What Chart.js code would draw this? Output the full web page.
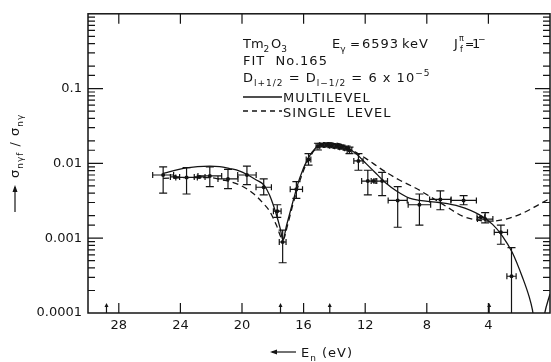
<!DOCTYPE html>
<html><head><meta charset="utf-8">
<script src="https://cdn.jsdelivr.net/npm/chart.js@4/dist/chart.umd.min.js"></script>
<style>html,body{margin:0;padding:0;background:#fff;overflow:hidden}canvas{display:block}</style>
</head><body>
<canvas id="c" width="554" height="362"></canvas>
<script>
// ---- tick labels ----
const xTickLabels = [28, 24, 20, 16, 12, 8, 4];
const yTickLabels = [0.0001, 0.001, 0.01, 0.1];

// ---- measured points (En in eV, ratio) ----
const pointE   = [25.12, 24.35, 23.60, 22.75, 22.09, 20.91, 19.68, 18.59, 17.71, 17.36, 16.47, 15.68, 15.07, 14.83, 14.51, 14.19, 13.86, 13.54, 13.21, 13.02, 12.44, 11.83, 11.46, 10.90, 9.89, 8.48, 7.12, 5.61, 4.49, 4.21, 3.19, 2.50];
const pointY   = [0.0070, 0.0066, 0.0065, 0.0066, 0.0068, 0.0062, 0.0070, 0.0048, 0.0023, 0.00089, 0.0045, 0.0113, 0.0169, 0.0176, 0.0176, 0.0172, 0.0170, 0.0165, 0.0160, 0.0149, 0.0108, 0.0058, 0.0058, 0.0058, 0.0032, 0.0028, 0.0033, 0.0032, 0.0019, 0.0018, 0.0012, 0.00031];
const pointYHi = [0.0090, null, 0.0088, null, 0.0090, 0.0083, 0.0092, 0.0062, 0.0028, 0.00128, 0.0057, 0.0135, 0.0186, 0.0186, 0.0186, 0.0182, 0.0180, 0.0175, 0.0170, 0.0165, 0.0135, 0.0081, null, 0.0076, 0.0049, 0.0039, 0.0043, 0.0037, null, 0.0022, 0.0015, 0.00075];
const pointYLo = [0.0040, null, 0.0039, null, 0.0049, 0.0046, 0.0052, 0.0038, 0.0019, 0.00047, 0.0034, 0.0095, 0.0151, 0.0166, 0.0166, 0.0162, 0.0160, 0.0155, 0.0150, 0.0135, 0.0081, 0.0038, null, 0.0037, 0.0014, 0.0015, 0.0024, 0.0028, null, 0.0016, 0.00083, 0.00008];
const pointEErr = [0.68, 0.30, 0.70, 0.35, 0.77, 0.65, 0.60, 0.50, 0.25, 0.22, 0.40, 0.15, 0.12, 0.12, 0.12, 0.12, 0.12, 0.12, 0.12, 0.15, 0.30, 0.40, 0.15, 0.35, 0.62, 0.73, 0.70, 0.83, 0.25, 0.50, 0.43, 0.30];

// ---- multilevel fit (solid) ----
const multiE = [25.12, 23.60, 22.09, 21.45, 20.80, 20.15, 19.68, 19.07, 18.59, 18.20, 17.77, 17.50, 17.35, 17.10, 16.69, 16.26, 15.72, 15.18, 14.85, 14.43, 13.88, 13.23, 12.59, 11.94, 11.29, 10.64, 9.99, 9.13, 8.48, 7.19, 5.89, 4.60, 3.73, 3.09, 2.44, 1.79, 1.35, 1.14, 0.95, 0.65, 0.34, 0];
const multiY = [0.00733, 0.00873, 0.00918, 0.00908, 0.00854, 0.00789, 0.00711, 0.0060, 0.00515, 0.00372, 0.00207, 0.00130, 0.00095, 0.00150, 0.0031, 0.0063, 0.01157, 0.01651, 0.01825, 0.01882, 0.01825, 0.01651, 0.01347, 0.00994, 0.00733, 0.00541, 0.0043, 0.00343, 0.0032, 0.0030, 0.00267, 0.00207, 0.00153, 0.00107, 0.00064, 0.000301, 0.000164, 0.00011, 0.00006, 0.00004, 0.0001, 0.00018];

// ---- single-level fit (dashed) ----
const singleE = [25.12, 23.60, 22.09, 21.23, 20.15, 19.29, 18.64, 18.20, 17.77, 17.34, 17.04, 16.71, 16.26, 15.74, 15.18, 14.64, 14.12, 13.60, 13.02, 11.94, 10.86, 9.78, 8.70, 7.62, 6.75, 5.68, 4.60, 3.95, 2.86, 1.79, 0.71, 0];
const singleY = [0.0063, 0.00644, 0.00644, 0.0060, 0.00515, 0.00399, 0.00295, 0.00229, 0.0015, 0.00095, 0.0015, 0.00275, 0.0057, 0.0108, 0.016, 0.01865, 0.0188, 0.0181, 0.01568, 0.01157, 0.00813, 0.0060, 0.00465, 0.00343, 0.00267, 0.00197, 0.00173, 0.00169, 0.0018, 0.00215, 0.00283, 0.0034];

// ---- resonance arrows on the energy axis ----
const arrowE = [28.8, 17.5, 14.3, 3.95];

const INK = '#141414';
const FONT = 'DejaVu Sans';

function toXY(xs, ys) { return xs.map((x, i) => ({ x: x, y: ys[i] })); }

function richText(ctx, x, y, parts, size) {
  let cx = x;
  for (const [txt, mode] of parts) {
    let fs = size, dy = 0;
    if (mode === 'sub') { fs = Math.round(size * 0.72); dy = 4; }
    if (mode === 'sup') { fs = Math.round(size * 0.72); dy = -6; }
    ctx.font = fs + 'px "' + FONT + '"';
    ctx.fillText(txt, cx, y + dy);
    cx += ctx.measureText(txt).width;
  }
  return cx;
}

const decor = {
  id: 'decor',
  afterDatasetsDraw(chart) {
    const ctx = chart.ctx, xs = chart.scales.x, ys = chart.scales.y, a = chart.chartArea;
    ctx.save();
    ctx.strokeStyle = INK; ctx.fillStyle = INK;
    // error bars
    ctx.lineWidth = 1.2;
    ctx.beginPath();
    ctx.rect(a.left, a.top - 1, a.right - a.left, a.bottom - a.top + 1);
    ctx.clip();
    for (let i = 0; i < pointE.length; i++) {
      const px = xs.getPixelForValue(pointE[i]);
      const py = ys.getPixelForValue(pointY[i]);
      const x1 = xs.getPixelForValue(pointE[i] + pointEErr[i]);
      const x2 = xs.getPixelForValue(pointE[i] - pointEErr[i]);
      ctx.beginPath();
      ctx.moveTo(x1, py); ctx.lineTo(x2, py);
      ctx.moveTo(x1, py - 3); ctx.lineTo(x1, py + 3);
      ctx.moveTo(x2, py - 3); ctx.lineTo(x2, py + 3);
      if (pointYHi[i] !== null) {
        const y1 = ys.getPixelForValue(pointYHi[i]);
        const y2 = Math.min(ys.getPixelForValue(pointYLo[i]), a.bottom);
        ctx.moveTo(px, y1); ctx.lineTo(px, y2);
        ctx.moveTo(px - 4, y1); ctx.lineTo(px + 4, y1);
        if (y2 < a.bottom) { ctx.moveTo(px - 4, y2); ctx.lineTo(px + 4, y2); }
      }
      ctx.stroke();
    }
    ctx.restore();
    ctx.save();
    ctx.strokeStyle = INK; ctx.fillStyle = INK;
    // frame
    ctx.lineWidth = 1.5;
    ctx.strokeRect(a.left, a.top, a.right - a.left, a.bottom - a.top);
    // x ticks (bottom up, top down)
    ctx.lineWidth = 1.2;
    ctx.beginPath();
    for (const t of xs.ticks) {
      const px = xs.getPixelForValue(t.value);
      ctx.moveTo(px, a.bottom); ctx.lineTo(px, a.bottom - 10);
      ctx.moveTo(px, a.top); ctx.lineTo(px, a.top + 10);
    }
    // y ticks (log)
    for (const t of ys.ticks) {
      const v = t.value;
      const lg = Math.log10(v);
      const major = Math.abs(lg - Math.round(lg)) < 1e-6;
      const py = ys.getPixelForValue(v);
      if (py < a.top + 0.5 || py > a.bottom - 0.5) continue;
      const len = major ? 15 : 7;
      ctx.moveTo(a.left, py); ctx.lineTo(a.left + len, py);
      ctx.moveTo(a.right, py); ctx.lineTo(a.right - len, py);
    }
    ctx.stroke();
    // resonance arrows
    for (const e of arrowE) {
      const px = xs.getPixelForValue(e);
      ctx.beginPath();
      ctx.moveTo(px, a.bottom); ctx.lineTo(px, a.bottom - 7);
      ctx.stroke();
      ctx.beginPath();
      ctx.moveTo(px, a.bottom - 10); ctx.lineTo(px - 2, a.bottom - 6); ctx.lineTo(px + 2, a.bottom - 6);
      ctx.closePath(); ctx.fill();
    }
    // annotation block
    ctx.textBaseline = 'alphabetic';
    const fs = 13;
    ctx.letterSpacing = '0px';
    richText(ctx, 243, 48, [['Tm', 'n'], ['2', 'sub']], fs);
    richText(ctx, 271, 48, [['O', 'n'], ['3', 'sub']], fs);
    richText(ctx, 332, 48, [['E', 'n'], ['γ', 'sub']], fs);
    ctx.font = '12px "' + FONT + '"';
    ctx.fillText('=', 350, 48);
    ctx.letterSpacing = '1px';
    richText(ctx, 362, 48, [['6593', 'n']], fs);
    richText(ctx, 402, 48, [['keV', 'n']], fs);
    ctx.letterSpacing = '0px';
    richText(ctx, 454, 48, [['J', 'n']], fs);
    ctx.font = '8px "' + FONT + '"';
    ctx.fillText('π', 459, 41);
    ctx.fillText('f', 460, 52);
    ctx.font = '11px "' + FONT + '"';
    ctx.fillText('=', 465, 48);
    ctx.font = '13px "' + FONT + '"';
    ctx.fillText('1', 472, 48);
    ctx.font = '9px "' + FONT + '"';
    ctx.fillText('−', 478, 42);
    ctx.letterSpacing = '1px';
    richText(ctx, 243, 65, [['FIT  No.165', 'n']], fs);
    richText(ctx, 243, 82, [['D', 'n'], ['l+1/2', 'sub'], [' = D', 'n'], ['l−1/2', 'sub'], [' = 6 x 10', 'n'], ['−5', 'sup']], fs);
    ctx.lineWidth = 1.3;
    ctx.beginPath(); ctx.moveTo(243, 97); ctx.lineTo(282, 97); ctx.stroke();
    richText(ctx, 283, 102, [['MULTILEVEL', 'n']], fs);
    ctx.setLineDash([5, 4]);
    ctx.beginPath(); ctx.moveTo(243, 111); ctx.lineTo(282, 111); ctx.stroke();
    ctx.setLineDash([]);
    richText(ctx, 283, 117, [['SINGLE  LEVEL', 'n']], fs);
    // x-axis title
    ctx.lineWidth = 1.2;
    ctx.beginPath(); ctx.moveTo(272, 352); ctx.lineTo(296, 352); ctx.stroke();
    ctx.beginPath(); ctx.moveTo(270, 352); ctx.lineTo(277, 349.5); ctx.lineTo(277, 354.5); ctx.closePath(); ctx.fill();
    richText(ctx, 301, 357, [['E', 'n'], ['n', 'sub'], [' (eV)', 'n']], fs);
    // y-axis title (rotated)
    ctx.save();
    ctx.translate(19, 160);
    ctx.rotate(-Math.PI / 2);
    ctx.beginPath(); ctx.moveTo(-52, -4); ctx.lineTo(-27, -4); ctx.stroke();
    ctx.beginPath(); ctx.moveTo(-25, -4); ctx.lineTo(-32, -6.5); ctx.lineTo(-32, -1.5); ctx.closePath(); ctx.fill();
    richText(ctx, -18, 0, [['σ', 'n'], ['nγf', 'sub'], [' / σ', 'n'], ['nγ', 'sub']], fs);
    ctx.restore();
    ctx.restore();
  }
};

new Chart(document.getElementById('c'), {
  type: 'scatter',
  data: {
    datasets: [
      { label: 'data', data: toXY(pointE, pointY), pointRadius: 2, pointBackgroundColor: INK, pointBorderColor: INK, borderWidth: 0, showLine: false, order: 0 },
      { label: 'MULTILEVEL', data: toXY(multiE, multiY), showLine: true, borderColor: INK, borderWidth: 1.3, pointRadius: 0, cubicInterpolationMode: 'monotone', fill: false },
      { label: 'SINGLE LEVEL', data: toXY(singleE, singleY), showLine: true, borderColor: INK, borderWidth: 1.3, borderDash: [6, 4], pointRadius: 0, cubicInterpolationMode: 'monotone', fill: false }
    ]
  },
  options: {
    responsive: false,
    animation: false,
    layout: { padding: { left: 0, right: 1, top: 10, bottom: 0 } },
    plugins: { legend: { display: false }, tooltip: { enabled: false } },
    scales: {
      x: {
        type: 'linear', reverse: true, min: 0, max: 30,
        grid: { display: false, drawTicks: false }, border: { display: false },
        afterBuildTicks: s => { s.ticks = xTickLabels.map(v => ({ value: v })); },
        ticks: { padding: 5, autoSkip: false, maxRotation: 0, color: INK, font: { family: FONT, size: 13 } },
        afterFit: s => { s.height = 49; }
      },
      y: {
        type: 'logarithmic', min: 0.0001, max: 1,
        grid: { display: false, drawTicks: false }, border: { display: false },
        ticks: {
          autoSkip: false, padding: 6, color: INK, font: { family: FONT, size: 13 },
          callback: v => {
            const m = yTickLabels.find(l => Math.abs(Math.log10(v) - Math.log10(l)) < 1e-6);
            return m === undefined ? '' : String(m);
          }
        },
        afterFit: s => { s.width = 88; }
      }
    }
  },
  plugins: [decor]
});
</script>
</body></html>
